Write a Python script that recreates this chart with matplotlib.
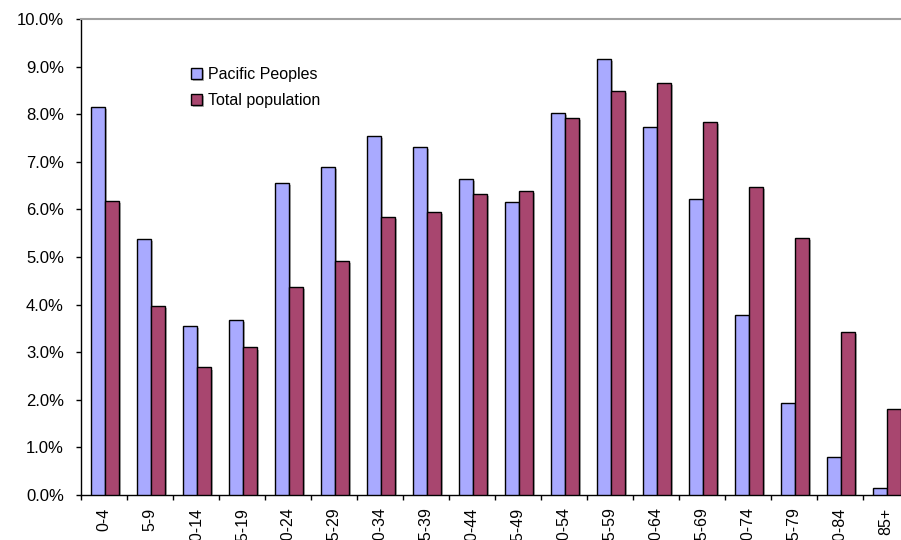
import numpy as np
import matplotlib
matplotlib.use('Agg')
import matplotlib.pyplot as plt
import matplotlib.patheffects as pe
from matplotlib.ticker import FuncFormatter, FixedLocator

plt.rcParams['font.family'] = ['Liberation Sans', 'DejaVu Sans']

age_groups = ['0-4', '5-9', '10-14', '15-19', '20-24', '25-29', '30-34', '35-39',
              '40-44', '45-49', '50-54', '55-59', '60-64', '65-69', '70-74',
              '75-79', '80-84', '85+']
pacific = [8.15, 5.38, 3.55, 3.68, 6.55, 6.90, 7.55, 7.32, 6.63, 6.15,
           8.03, 9.17, 7.73, 6.22, 3.78, 1.93, 0.80, 0.15]
total = [6.18, 3.98, 2.68, 3.10, 4.37, 4.92, 5.85, 5.95, 6.32, 6.38,
         7.93, 8.48, 8.65, 7.83, 6.48, 5.40, 3.42, 1.80]

fig = plt.figure(figsize=(9.01, 5.40), dpi=100)
ax = fig.add_axes([81 / 901, 45 / 540, 828 / 901, 476 / 540])

x = np.arange(len(age_groups))
w = 0.3
shadow = [pe.SimplePatchShadow(offset=(1.5, -1.5), shadow_rgbFace='#808080', alpha=0.6), pe.Normal()]
b1 = ax.bar(x - w / 2 + 0.02, pacific, w, color='#A9AAFF', edgecolor='black', linewidth=1.0,
            label='Pacific Peoples', zorder=3)
b2 = ax.bar(x + w / 2 + 0.02, total, w, color='#A8466F', edgecolor='black', linewidth=1.0,
            label='Total population', zorder=3)
for bar in list(b1) + list(b2):
    bar.set_path_effects(shadow)

ax.set_xlim(-0.5, len(age_groups) - 0.5)
ax.set_ylim(0, 10)
ax.yaxis.set_major_locator(FixedLocator(np.arange(0, 10.01, 1)))
ax.yaxis.set_major_formatter(FuncFormatter(lambda v, p: f'{v:.1f}%'))

# group boundaries get the ticks, the labels sit at the centres
ax.set_xticks(np.arange(-0.5, len(age_groups), 1))
ax.set_xticklabels([])
ax.set_xticks(x, minor=True)
ax.set_xticklabels(age_groups, minor=True, rotation=90, va='top', ha='center')
ax.tick_params(axis='x', which='major', direction='out', length=3.8, width=1, color='black')
ax.tick_params(axis='x', which='minor', length=0, pad=9, labelsize=11.5)
ax.tick_params(axis='y', direction='out', length=3.8, width=1, labelsize=12, pad=8.5)

for s in ['left', 'bottom']:
    ax.spines[s].set_color('black')
    ax.spines[s].set_linewidth(1.0)
ax.spines['top'].set_color('#A0A0A0')
ax.spines['top'].set_linewidth(1.5)
ax.spines['right'].set_visible(False)

leg = ax.legend(loc='upper left', bbox_to_anchor=(0.115, 0.93), frameon=False,
                fontsize=11.5, handlelength=0.7, handleheight=0.7, handletextpad=0.4,
                labelspacing=0.7)

fig.savefig('out.png', dpi=100)
